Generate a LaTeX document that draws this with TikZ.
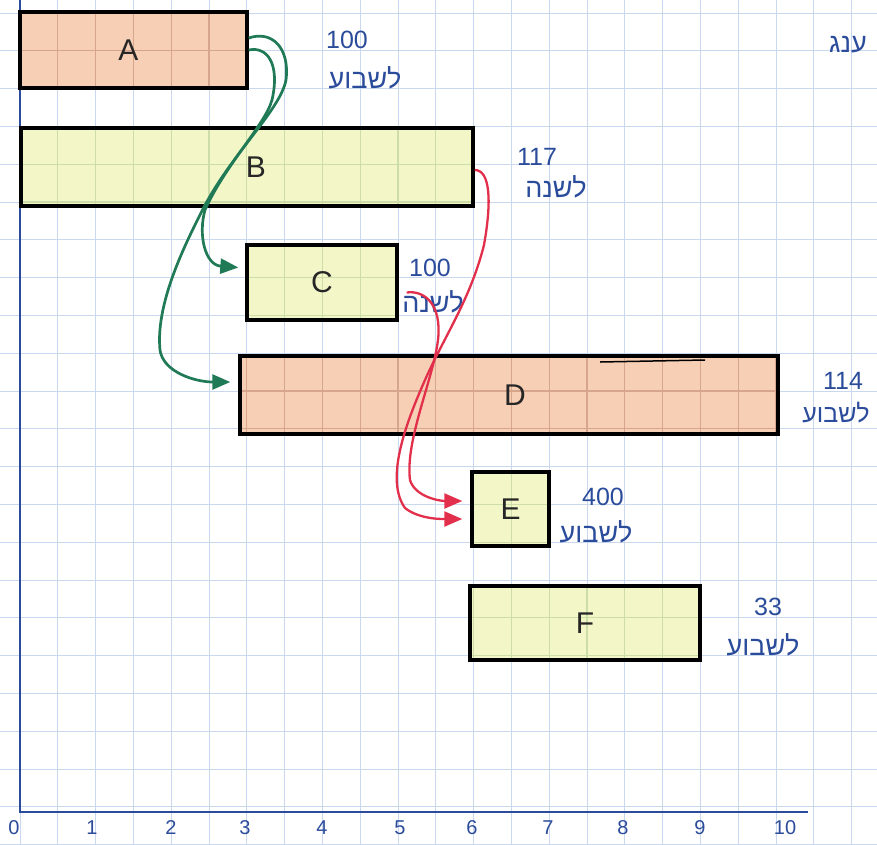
\documentclass[tikz,border=0pt]{standalone}
\usepackage{fontspec}
\setmainfont{Liberation Sans}
\newfontfamily\hebfont[Script=Hebrew]{Liberation Sans}
\TeXXeTstate=1
\usetikzlibrary{arrows.meta,calc}
\definecolor{ink}{HTML}{2B4C9B}
\definecolor{paper}{HTML}{C9D8EE}
\definecolor{peach}{HTML}{F7CFB4}
\definecolor{peachgrid}{HTML}{D6A68C}
\definecolor{lemon}{HTML}{F3F6C6}
\definecolor{lemongrid}{HTML}{CCDDA8}
\definecolor{arrgreen}{HTML}{1F7A55}
\definecolor{arrred}{HTML}{E2304C}
\newcommand\mygridbox[6]{%
  \begin{scope}
    \clip (#1,#2) rectangle (#3,#4);
    \fill[#5] (#1,#2) rectangle (#3,#4);
    \foreach \i in {0,...,22} {
      \draw[#6, line width=1.1pt] ({20+37.8*\i},0) -- ++(0,844);
      \draw[#6, line width=1.1pt] (0,{13+37.8*\i}) -- ++(877,0);
    }
  \end{scope}}
\begin{document}
\begin{tikzpicture}[x=1pt,y=-1pt,
  box/.style={draw=black, line width=3.4pt, inner sep=0pt, text=black!85,
    font=\fontsize{30}{30}\selectfont},
  num/.style={text=ink, font=\fontsize{25}{25}\selectfont, inner sep=0pt},
  heb/.style={text=ink, font=\hebfont\fontsize{27}{27}\selectfont, inner sep=0pt},
  tick/.style={text=ink, font=\fontsize{20}{20}\selectfont, inner sep=0pt},
  garrow/.style={draw=arrgreen, line width=2.7pt, -{Triangle[length=18pt,width=15pt]}},
  rarrow/.style={draw=arrred, line width=2.3pt, -{Triangle[length=18pt,width=15pt]}},
  axis/.style={draw=ink, line width=2.4pt}
]
\fill[white] (0,0) rectangle (877,844);
\useasboundingbox (0,0) rectangle (877,844);
% graph paper
\foreach \i in {0,...,22} {
  \draw[paper, line width=0.9pt] ({20+37.8*\i},0) -- ++(0,844);
  \draw[paper, line width=0.9pt] (0,{13+37.8*\i}) -- ++(877,0);
}
% box fills with inner grid
\mygridbox{20}{12}{247}{88}{peach}{peachgrid}
\mygridbox{21}{128}{473}{206}{lemon}{lemongrid}
\mygridbox{247}{245}{397}{320}{lemon}{lemongrid}
\mygridbox{240}{356}{778}{434}{peach}{peachgrid}
\mygridbox{472}{472}{549}{546}{lemon}{lemongrid}
\mygridbox{470}{586}{700}{660}{lemon}{lemongrid}
% axes
\coordinate (O) at (20,812);
\coordinate (Ytop) at (20,0);
\coordinate (Xend) at (808,812);
\draw[axis] (Ytop) -- (O) -- (Xend);
% boxes
\node[box, minimum width=227pt, minimum height=76pt] (A) at (133.5,50) {\hspace*{-10pt}A};
\node[box, minimum width=452pt, minimum height=78pt] (B) at (247,167) {\hspace*{18pt}B};
\node[box, minimum width=150pt, minimum height=75pt] (C) at (322,282.5) {C};
\node[box, minimum width=538pt, minimum height=78pt] (D) at (509,395) {\hspace*{12pt}D};
\node[box, minimum width=77pt, minimum height=74pt] (E) at (510.5,509) {E};
\node[box, minimum width=230pt, minimum height=74pt] (F) at (585,623) {F};
\draw[line width=1.5pt] (600,362) -- (705,360);
% rates
\node[num] (nA) at (347,40) {100};
\node[heb] (hA) at (365,78) {\beginR לשבוע\endR};
\node[num] (nB) at (537,157) {117};
\node[heb] (hB) at (556,187) {\beginR לשנה\endR};
\node[num] (nC) at (430,268) {100};
\node[heb] (hC) at (433,302) {\beginR לשנה\endR};
\node[num] (nD) at (843,381) {114};
\node[heb, font=\hebfont\fontsize{25}{25}\selectfont] (hD) at (836,413) {\beginR לשבוע\endR};
\node[num] (nE) at (603,497) {400};
\node[heb] (hE) at (596,532) {\beginR לשבוע\endR};
\node[num] (nF) at (768,607) {33};
\node[heb] (hF) at (763,645) {\beginR לשבוע\endR};
\node[heb] (top) at (848,45) {\beginR ענג\endR};
% axis ticks
\foreach \v/\x in {0/14,1/92,2/171,3/245,4/322,5/400,6/472,7/548,8/623,9/700,10/785}
  \node[tick] (t\v) at (\x,828) {\v};
% green arrows
\draw[garrow] ([yshift=12pt]A.east) .. controls (272,30) and (290,48) .. (286,80)
  .. controls (280,110) and (235,150) .. (205,205)
  .. controls (190,235) and (155,300) .. (160,350)
  .. controls (163,372) and (195,382) .. ([xshift=-8pt,yshift=13pt]D.west);
\draw[garrow] ([yshift=0pt]A.east) .. controls (268,46) and (280,65) .. (272,100)
  .. controls (265,125) and (225,165) .. (205,210)
  .. controls (198,235) and (205,265) .. ([xshift=-7pt,yshift=15pt]C.west);
% red arrows
\draw[rarrow] ([yshift=-3pt]B.east) .. controls (490,170) and (492,200) .. (484,245)
  .. controls (470,300) and (445,335) .. (425,380)
  .. controls (405,425) and (385,480) .. (405,508)
  .. controls (420,520) and (445,519) .. ([xshift=-8pt,yshift=-10pt]E.west);
\draw[rarrow] ([xshift=8pt,yshift=-10pt]C.east) .. controls (425,290) and (442,305) .. (438,340)
  .. controls (433,380) and (405,440) .. (410,480)
  .. controls (415,497) and (440,501) .. ([xshift=-8pt,yshift=8pt]E.west);
\end{tikzpicture}
\end{document}
